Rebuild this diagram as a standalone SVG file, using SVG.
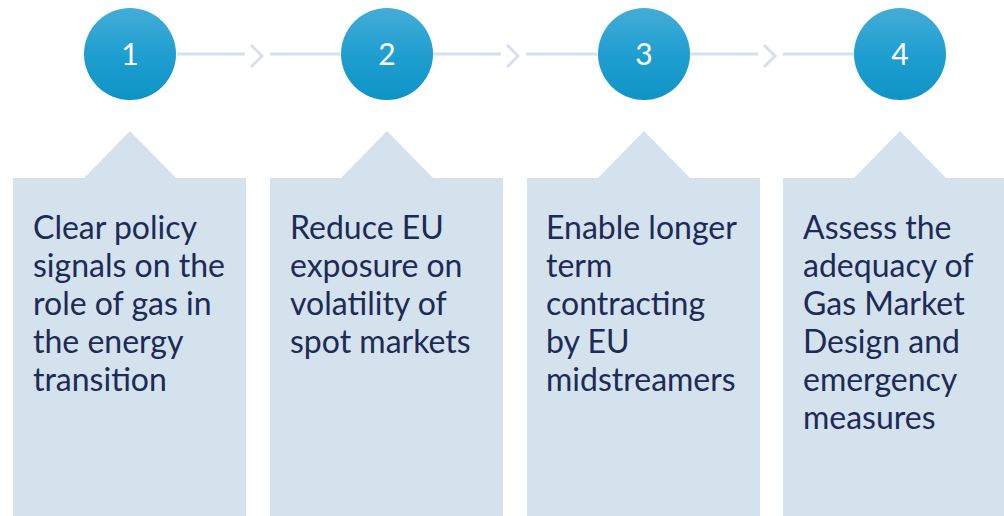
<svg xmlns="http://www.w3.org/2000/svg" width="1004" height="516" viewBox="0 0 1004 516">
  <defs>
    <linearGradient id="ball" x1="0" y1="0" x2="0" y2="1">
      <stop offset="0" stop-color="#44acd8"/>
      <stop offset="0.5" stop-color="#1f9fd0"/>
      <stop offset="1" stop-color="#0f93c6"/>
    </linearGradient>
    <style>
      .box { fill: #d3e2ec; }
      .ball { fill: url(#ball); }
      .num { fill: #ffffff; font-family: Lato, "Open Sans", sans-serif; font-size: 30px; text-anchor: middle; }
      .label { fill: #202a55; font-family: Lato, "Open Sans", sans-serif; font-size: 32px; }
      .link { stroke: #d3e2ec; stroke-width: 3; fill: none; }
    </style>
  </defs>
  <rect width="1004" height="516" fill="#ffffff"/>

  <!-- connectors between the step markers -->
  <g id="connectors">
    <path class="link" d="M177 54 H245 M270 54 H340 M251 45 L262 56 L251 67"/>
    <path class="link" d="M433 54 H501 M526 54 H597 M507 45 L518 56 L507 67"/>
    <path class="link" d="M690 54 H758 M783 54 H854 M764 45 L775 56 L764 67"/>
  </g>

  <g id="step1">
    <path class="box" d="M13 178 H84 L130 131 L176 178 H246 V516 H13 Z"/>
    <circle class="ball" cx="130" cy="54" r="46"/>
    <text class="num" x="130" y="65">1</text>
    <text class="label" x="33" y="239">Clear policy<tspan x="33" y="277">signals on the</tspan><tspan x="33" y="315">role of gas in</tspan><tspan x="33" y="353">the energy</tspan><tspan x="33" y="391">transition</tspan></text>
  </g>

  <g id="step2">
    <path class="box" d="M270 178 H341 L387 131 L433 178 H503 V516 H270 Z"/>
    <circle class="ball" cx="387" cy="54" r="46"/>
    <text class="num" x="387" y="65">2</text>
    <text class="label" x="290" y="239">Reduce EU<tspan x="290" y="277">exposure on</tspan><tspan x="290" y="315">volatility of</tspan><tspan x="290" y="353">spot markets</tspan></text>
  </g>

  <g id="step3">
    <path class="box" d="M527 178 H598 L644 131 L690 178 H760 V516 H527 Z"/>
    <circle class="ball" cx="644" cy="54" r="46"/>
    <text class="num" x="644" y="65">3</text>
    <text class="label" x="546" y="239">Enable longer<tspan x="546" y="277">term</tspan><tspan x="546" y="315">contracting</tspan><tspan x="546" y="353">by EU</tspan><tspan x="546" y="391">midstreamers</tspan></text>
  </g>

  <g id="step4">
    <path class="box" d="M783 178 H854 L900 131 L946 178 H1004 V516 H783 Z"/>
    <circle class="ball" cx="900" cy="54" r="46"/>
    <text class="num" x="900" y="65">4</text>
    <text class="label" x="803" y="239">Assess the<tspan x="803" y="277">adequacy of</tspan><tspan x="803" y="315">Gas Market</tspan><tspan x="803" y="353">Design and</tspan><tspan x="803" y="391">emergency</tspan><tspan x="803" y="429">measures</tspan></text>
  </g>
</svg>
